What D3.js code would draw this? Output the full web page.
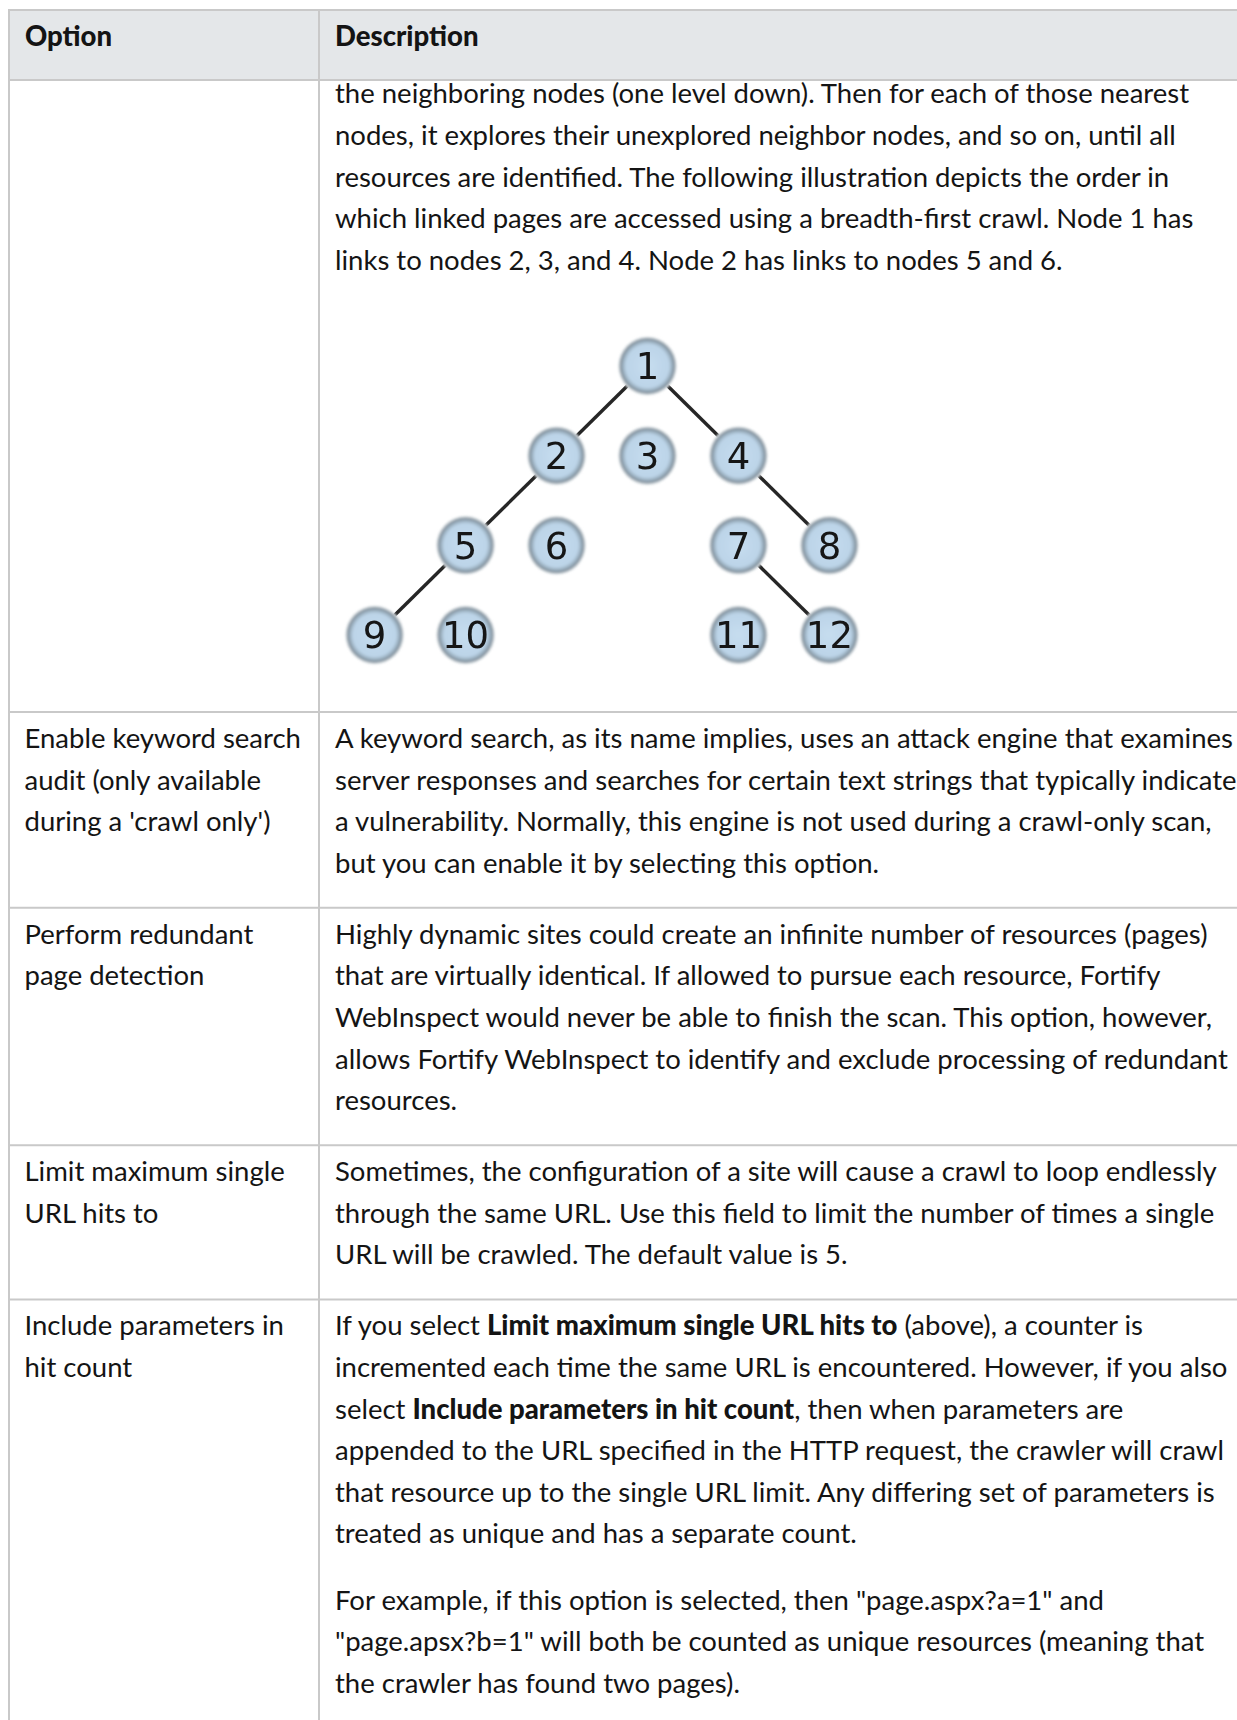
<!DOCTYPE html>
<html>
<head>
<meta charset="utf-8">
<script src="https://cdn.jsdelivr.net/npm/d3@7"></script>
<style>
  html, body { margin: 0; padding: 0; background: #ffffff; }
  svg { display: block; }
</style>
</head>
<body>
<div id="chart"></div>
<script>
// ---------------- data ----------------
const headers = ["Option", "Description"];

// option column text (one entry per body row, lines as shown)
const optionLines = [
  [],
  ["Enable keyword search", "audit (only available", "during a 'crawl only')"],
  ["Perform redundant", "page detection"],
  ["Limit maximum single", "URL hits to"],
  ["Include parameters in", "hit count"]
];

// description column: paragraphs -> lines -> segments [text, bold]
const descriptionParas = [
  [[
    [["the neighboring nodes (one level down). Then for each of those nearest", false]],
    [["nodes, it explores their unexplored neighbor nodes, and so on, until all", false]],
    [["resources are identified. The following illustration depicts the order in", false]],
    [["which linked pages are accessed using a breadth-first crawl. Node 1 has", false]],
    [["links to nodes 2, 3, and 4. Node 2 has links to nodes 5 and 6.", false]]
  ]],
  [[
    [["A keyword search, as its name implies, uses an attack engine that examines", false]],
    [["server responses and searches for certain text strings that typically indicate", false]],
    [["a vulnerability. Normally, this engine is not used during a crawl-only scan,", false]],
    [["but you can enable it by selecting this option.", false]]
  ]],
  [[
    [["Highly dynamic sites could create an infinite number of resources (pages)", false]],
    [["that are virtually identical. If allowed to pursue each resource, Fortify", false]],
    [["WebInspect would never be able to finish the scan. This option, however,", false]],
    [["allows Fortify WebInspect to identify and exclude processing of redundant", false]],
    [["resources.", false]]
  ]],
  [[
    [["Sometimes, the configuration of a site will cause a crawl to loop endlessly", false]],
    [["through the same URL. Use this field to limit the number of times a single", false]],
    [["URL will be crawled. The default value is 5.", false]]
  ]],
  [
    [
      [["If you select ", false], ["Limit maximum single URL hits to", true], [" (above), a counter is", false]],
      [["incremented each time the same URL is encountered. However, if you also", false]],
      [["select ", false], ["Include parameters in hit count", true], [", then when parameters are", false]],
      [["appended to the URL specified in the HTTP request, the crawler will crawl", false]],
      [["that resource up to the single URL limit. Any differing set of parameters is", false]],
      [["treated as unique and has a separate count.", false]]
    ],
    [
      [["For example, if this option is selected, then \"page.aspx?a=1\" and", false]],
      [["\"page.apsx?b=1\" will both be counted as unique resources (meaning that", false]],
      [["the crawler has found two pages).", false]]
    ]
  ]
];

// breadth-first tree: node label, grid column, depth level
const nodeIds    = [1, 2, 3, 4, 5, 6, 7, 8, 9, 10, 11, 12];
const nodeCols   = [3, 2, 3, 4, 1, 2, 4, 5, 0, 1, 4, 5];
const nodeLevels = [0, 1, 1, 1, 2, 2, 2, 2, 3, 3, 3, 3];
const linkSources = [1, 1, 1, 2, 2, 4, 4, 5, 5, 7, 7];
const linkTargets = [2, 3, 4, 5, 6, 7, 8, 9, 10, 11, 12];

// ---------------- layout ----------------
const W = 1237, H = 1720;
const tableLeft = 9, colDiv = 319, tableTop = 10, headerBottom = 80;
const lineH = 41.6;
const firstBase = 36;
const paraGap = 24.5;
const rowBottomPad = 35;
const col1X = 24.5, col2X = 335;
const borderColor = "#c9c9c9";
const textColor = "#141414";
const fontFamily = "Lato, 'Open Sans', sans-serif";
const fontSize = 27.5;

const svg = d3.select("#chart").append("svg")
  .attr("width", W).attr("height", H)
  .attr("viewBox", `0 0 ${W} ${H}`);

svg.append("rect").attr("width", W).attr("height", H).attr("fill", "#ffffff");

// header background
svg.append("rect")
  .attr("x", tableLeft).attr("y", tableTop)
  .attr("width", W - tableLeft + 5).attr("height", headerBottom - tableTop)
  .attr("fill", "#e4e7e9");

// header texts
svg.selectAll("text.hdr").data(headers).join("text")
  .attr("class", "hdr")
  .attr("x", (d, i) => i === 0 ? col1X + 0.5 : col2X)
  .attr("y", 46)
  .attr("font-family", fontFamily)
  .attr("font-weight", 900)
  .attr("font-size", 27.5)
  .attr("fill", textColor)
  .text(d => d);

// ---- compute row geometry ----
const rowTops = [headerBottom];
const rowFirstBaselines = [103.3];
// row 0 is a continuation row holding the tree
const treeRowBottom = 712;
rowTops.push(treeRowBottom);
for (let r = 1; r < descriptionParas.length; r++) {
  const top = rowTops[r];
  rowFirstBaselines[r] = top + firstBase;
  const paras = descriptionParas[r];
  let nLines = 0;
  paras.forEach(p => nLines += p.length);
  const h = firstBase + (nLines - 1) * lineH + (paras.length - 1) * paraGap + rowBottomPad;
  rowTops.push(top + h);
}

// ---- text ----
function drawLines(g, x, y0, paras) {
  let y = y0;
  paras.forEach((para, pi) => {
    if (pi > 0) y += paraGap;
    para.forEach(line => {
      const t = g.append("text")
        .attr("x", x).attr("y", y)
        .attr("font-family", fontFamily)
        .attr("font-size", fontSize)
        .attr("fill", textColor)
        .attr("xml:space", "preserve");
      line.forEach(seg => {
        t.append("tspan")
          .attr("font-weight", seg[1] ? 900 : 400)
          .text(seg[0]);
      });
      y += lineH;
    });
  });
}

const textG = svg.append("g");
descriptionParas.forEach((paras, r) => {
  drawLines(textG, col2X, rowFirstBaselines[r], paras);
  const opt = optionLines[r].map(s => [[s, false]]);
  if (opt.length) drawLines(textG, col1X, rowFirstBaselines[r], [opt]);
});

// ---- grid lines ----
const gridG = svg.append("g").attr("stroke", borderColor).attr("stroke-width", 2);
const hLines = [tableTop, ...rowTops.slice(0, rowTops.length - 1)];
gridG.selectAll("line.h").data(hLines).join("line")
  .attr("class", "h")
  .attr("x1", tableLeft - 1).attr("x2", W + 5)
  .attr("y1", d => d).attr("y2", d => d);
gridG.selectAll("line.v").data([tableLeft, colDiv]).join("line")
  .attr("class", "v")
  .attr("x1", d => d).attr("x2", d => d)
  .attr("y1", tableTop).attr("y2", H + 5);

// ---- tree illustration ----
const xScale = d3.scaleLinear().domain([0, 5]).range([374.6, 829.4]);
const yScale = d3.scaleLinear().domain([0, 3]).range([366, 635]);
const nodes = nodeIds.map((id, i) => ({ id, x: xScale(nodeCols[i]), y: yScale(nodeLevels[i]) }));
const byId = new Map(nodes.map(n => [n.id, n]));
const links = linkSources.map((s, i) => ({ s: byId.get(s), t: byId.get(linkTargets[i]) }));

const defs = svg.append("defs");
const grad = defs.append("radialGradient").attr("id", "nodeGrad")
  .attr("cx", "50%").attr("cy", "50%").attr("r", "50%");
grad.append("stop").attr("offset", "0%").attr("stop-color", "#c6ddef");
grad.append("stop").attr("offset", "76%").attr("stop-color", "#bcd4e8");
grad.append("stop").attr("offset", "87%").attr("stop-color", "#9cb1c1");
grad.append("stop").attr("offset", "95%").attr("stop-color", "#84939f");
grad.append("stop").attr("offset", "100%").attr("stop-color", "#b5bdc3");
const blur = defs.append("filter").attr("id", "soft").attr("x", "-30%").attr("y", "-30%").attr("width", "160%").attr("height", "160%");
blur.append("feGaussianBlur").attr("stdDeviation", 0.9);
const blurT = defs.append("filter").attr("id", "softT");
blurT.append("feGaussianBlur").attr("stdDeviation", 0.35);

const treeG = svg.append("g");
treeG.selectAll("line.link").data(links).join("line")
  .attr("class", "link")
  .attr("x1", d => d.s.x).attr("y1", d => d.s.y)
  .attr("x2", d => d.t.x).attr("y2", d => d.t.y)
  .attr("stroke", "#262626").attr("stroke-width", 3.4)
  .attr("filter", "url(#softT)");

const nodeG = treeG.selectAll("g.node").data(nodes).join("g")
  .attr("class", "node")
  .attr("transform", d => `translate(${d.x},${d.y})`);
nodeG.append("circle").attr("r", 29.5).attr("fill", "#dde2e5").attr("filter", "url(#soft)");
nodeG.append("circle").attr("r", 28).attr("fill", "url(#nodeGrad)").attr("filter", "url(#soft)");
nodeG.append("text")
  .attr("text-anchor", "middle")
  .attr("dy", "0.36em")
  .attr("font-family", "'DejaVu Sans', sans-serif")
  .attr("font-size", 37)
  .attr("fill", "#151515")
  .attr("filter", "url(#softT)")
  .text(d => d.id);
</script>
</body>
</html>
